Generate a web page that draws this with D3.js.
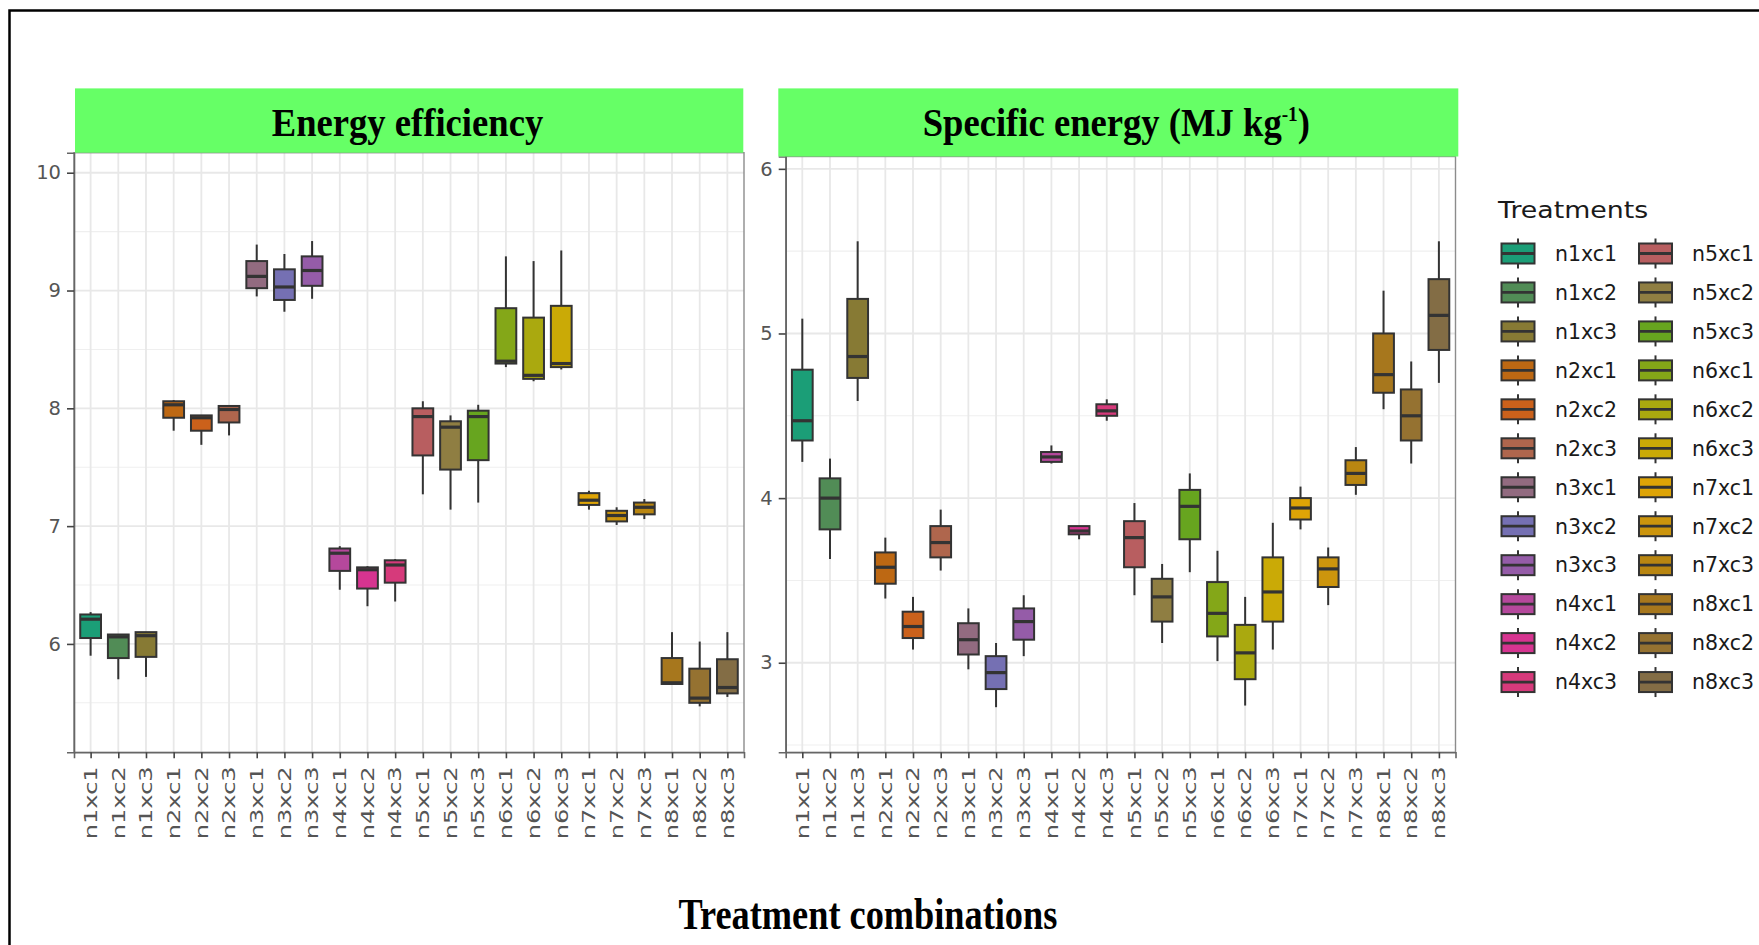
<!DOCTYPE html>
<html>
<head>
<meta charset="utf-8">
<script src="https://cdn.jsdelivr.net/npm/d3@7"></script>
<style>
  html, body { margin: 0; padding: 0; background: #ffffff; }
  svg { display: block; }
</style>
</head>
<body>
<svg id="chart" width="1759" height="945"></svg>
<script>
// ---------------- DATA ----------------
const categories = ["n1xc1","n1xc2","n1xc3","n2xc1","n2xc2","n2xc3","n3xc1","n3xc2","n3xc3",
  "n4xc1","n4xc2","n4xc3","n5xc1","n5xc2","n5xc3","n6xc1","n6xc2","n6xc3",
  "n7xc1","n7xc2","n7xc3","n8xc1","n8xc2","n8xc3"];

// Energy efficiency: lower whisker, Q1, median, Q3, upper whisker
const effLow    = [5.90,5.70,5.72, 7.81,7.69,7.77, 8.95,8.82,8.93, 6.46,6.32,6.36, 7.27,7.14,7.20, 8.35,8.23,8.33, 7.14,7.01,7.06, 5.66,5.47,5.55];
const effQ1     = [6.05,5.88,5.89, 7.92,7.81,7.88, 9.02,8.92,9.04, 6.62,6.47,6.52, 7.60,7.48,7.56, 8.38,8.25,8.35, 7.18,7.04,7.10, 5.66,5.50,5.58];
const effMedian = [6.21,6.06,6.07, 8.03,7.92,7.99, 9.12,9.03,9.17, 6.77,6.63,6.67, 7.93,7.84,7.93, 8.40,8.28,8.38, 7.22,7.09,7.16, 5.67,5.54,5.63];
const effQ3     = [6.25,6.08,6.10, 8.06,7.94,8.02, 9.25,9.18,9.29, 6.81,6.65,6.71, 8.00,7.89,7.98, 8.85,8.77,8.87, 7.28,7.13,7.20, 5.88,5.79,5.87];
const effHigh   = [6.27,6.08,6.10, 8.07,7.94,8.02, 9.39,9.31,9.42, 6.83,6.66,6.72, 8.06,7.94,8.03, 9.29,9.25,9.34, 7.30,7.16,7.23, 6.10,6.02,6.10];

// Specific energy (MJ kg-1): lower whisker, Q1, median, Q3, upper whisker
const seLow    = [4.22,3.63,4.59, 3.39,3.08,3.56, 2.96,2.73,3.04, 4.21,3.75,4.47, 3.41,3.12,3.55, 3.01,2.74,3.08, 3.81,3.35,4.02, 4.54,4.21,4.70];
const seQ1     = [4.35,3.81,4.73, 3.48,3.15,3.64, 3.05,2.84,3.14, 4.22,3.78,4.50, 3.58,3.25,3.75, 3.16,2.90,3.25, 3.87,3.46,4.08, 4.64,4.35,4.90];
const seMedian = [4.47,4.00,4.86, 3.58,3.22,3.73, 3.14,2.94,3.25, 4.25,3.80,4.53, 3.76,3.40,3.95, 3.30,3.06,3.43, 3.94,3.57,4.15, 4.75,4.50,5.11];
const seQ3     = [4.78,4.12,5.21, 3.67,3.31,3.83, 3.24,3.04,3.33, 4.28,3.83,4.57, 3.86,3.51,4.05, 3.49,3.23,3.64, 4.00,3.64,4.23, 5.00,4.66,5.33];
const seHigh   = [5.09,4.24,5.56, 3.76,3.40,3.93, 3.33,3.12,3.41, 4.32,3.83,4.60, 3.97,3.60,4.15, 3.68,3.40,3.85, 4.07,3.70,4.31, 5.26,4.83,5.56];

const effTicks = [6, 7, 8, 9, 10];
const effMinor = [5.5, 6.5, 7.5, 8.5, 9.5];
const seTicks  = [3, 4, 5, 6];
const seMinor  = [2.5, 3.5, 4.5, 5.5];

const palette = ["#1B9E77","#518C56","#877A34","#BD6813","#CB611B","#AF664D","#926B80","#7570B3",
  "#955CA8","#B5489C","#D63490","#D63A7B","#B85E60","#8F7E42","#67A51F","#84A718",
  "#AAA90F","#CAAA06","#DEA406","#CC950D","#B98611","#A7771D","#957231","#836D45"];

// ---------------- DRAW ----------------
const svg = d3.select("#chart");
svg.append("rect").attr("width", 1759).attr("height", 945).attr("fill", "#fff");

// outer frame (only top and left edges visible)
svg.append("path").attr("d", "M9.5,945 V10.5 H1759").attr("fill", "none")
  .attr("stroke", "#000").attr("stroke-width", 2.5);

const color = d3.scaleOrdinal().domain(categories).range(palette);

function fitWidth(textSel, x0, target) {
  const w = textSel.node().getBBox().width;
  const s = target / w;
  textSel.attr("transform", `translate(${x0},0) scale(${s},1) translate(${-x0},0)`);
}

function drawPanel(o) {
  const g = svg.append("g");
  const x = d3.scalePoint().domain(categories).range([o.x0, o.x1]).padding(0.6);
  const y = d3.scaleLinear().domain(o.domain).range([o.y1, o.y0]);
  const bw = x.step() * 0.75;

  // grid
  g.selectAll(".minor").data(o.minor).join("line")
    .attr("x1", o.x0).attr("x2", o.x1).attr("y1", d => y(d)).attr("y2", d => y(d))
    .attr("stroke", "#efefef").attr("stroke-width", 1.1);
  g.selectAll(".major").data(o.ticks).join("line")
    .attr("x1", o.x0).attr("x2", o.x1).attr("y1", d => y(d)).attr("y2", d => y(d))
    .attr("stroke", "#e8e8e8").attr("stroke-width", 1.8);
  g.selectAll(".vgrid").data(categories).join("line")
    .attr("x1", d => x(d)).attr("x2", d => x(d)).attr("y1", o.y0).attr("y2", o.y1)
    .attr("stroke", "#e8e8e8").attr("stroke-width", 1.8);

  // boxes
  const idx = d3.range(categories.length);
  const bx = g.selectAll(".box").data(idx).join("g");
  bx.append("line")
    .attr("x1", i => x(categories[i])).attr("x2", i => x(categories[i]))
    .attr("y1", i => y(o.hi[i])).attr("y2", i => y(o.q3[i]))
    .attr("stroke", "#333").attr("stroke-width", 2);
  bx.append("line")
    .attr("x1", i => x(categories[i])).attr("x2", i => x(categories[i]))
    .attr("y1", i => y(o.q1[i])).attr("y2", i => y(o.lo[i]))
    .attr("stroke", "#333").attr("stroke-width", 2);
  bx.append("rect")
    .attr("x", i => x(categories[i]) - bw / 2).attr("width", bw)
    .attr("y", i => y(o.q3[i])).attr("height", i => y(o.q1[i]) - y(o.q3[i]))
    .attr("fill", i => color(categories[i])).attr("stroke", "#333").attr("stroke-width", 2);
  bx.append("line")
    .attr("x1", i => x(categories[i]) - bw / 2).attr("x2", i => x(categories[i]) + bw / 2)
    .attr("y1", i => y(o.med[i])).attr("y2", i => y(o.med[i]))
    .attr("stroke", "#333").attr("stroke-width", 3.2);

  // panel border
  g.append("rect").attr("x", o.x0).attr("y", o.y0).attr("width", o.x1 - o.x0).attr("height", o.y1 - o.y0)
    .attr("fill", "none").attr("stroke", "#8c8c8c").attr("stroke-width", 1.4);

  // axes
  const ya = g.append("g").attr("transform", `translate(${o.x0},0)`)
    .call(d3.axisLeft(y).tickValues(o.ticks).tickSize(7).tickPadding(6).tickFormat(d3.format("d")));
  ya.select(".domain").attr("stroke", "#666").attr("stroke-width", 1.6);
  ya.selectAll(".tick line").attr("stroke", "#444").attr("stroke-width", 1.6);
  ya.selectAll(".tick text").attr("font-family", "DejaVu Sans").attr("font-size", 19.5)
    .attr("fill", "#555");

  const xa = g.append("g").attr("transform", `translate(0,${o.y1})`)
    .call(d3.axisBottom(x).tickSize(6).tickPadding(4));
  xa.select(".domain").attr("stroke", "#666").attr("stroke-width", 1.6);
  xa.selectAll(".tick line").attr("stroke", "#444").attr("stroke-width", 1.6);
  xa.selectAll(".tick text")
    .attr("font-family", "DejaVu Sans").attr("font-size", 17.5).attr("fill", "#555")
    .attr("text-anchor", "end").attr("transform", "rotate(-90)")
    .attr("x", -14).attr("y", 0).attr("dy", "0.33em")
    .attr("textLength", 73).attr("lengthAdjust", "spacingAndGlyphs");

  // strip
  g.append("rect").attr("x", o.sx0).attr("y", o.sy0).attr("width", o.sx1 - o.sx0).attr("height", o.sy1 - o.sy0)
    .attr("fill", "#66ff66");
  const t = g.append("text").attr("x", o.tx).attr("y", o.ty)
    .attr("font-family", "Liberation Serif, Times New Roman, serif").attr("font-weight", "bold")
    .attr("font-size", 40).attr("fill", "#000");
  o.title(t);
  fitWidth(t, o.tx, o.tw);
}

drawPanel({
  x0: 74, x1: 744, y0: 152.7, y1: 752.3, domain: [5.08, 10.17],
  ticks: effTicks, minor: effMinor,
  lo: effLow, q1: effQ1, med: effMedian, q3: effQ3, hi: effHigh,
  sx0: 75, sx1: 743.3, sy0: 88.4, sy1: 152.7,
  tx: 271.7, ty: 136, tw: 271.6,
  title: t => t.text("Energy efficiency")
});

drawPanel({
  x0: 785.7, x1: 1455.5, y0: 156.5, y1: 752.3, domain: [2.456, 6.075],
  ticks: seTicks, minor: seMinor,
  lo: seLow, q1: seQ1, med: seMedian, q3: seQ3, hi: seHigh,
  sx0: 778.3, sx1: 1458.3, sy0: 88.4, sy1: 156.5,
  tx: 922.7, ty: 136, tw: 387.3,
  title: t => {
    t.append("tspan").text("Specific energy (MJ kg");
    t.append("tspan").attr("font-size", 21).attr("dy", -15).text("-1");
    t.append("tspan").attr("dy", 15).text(")");
  }
});

// x-axis title
const xt = svg.append("text").attr("x", 678.5).attr("y", 929)
  .attr("font-family", "Liberation Serif, Times New Roman, serif").attr("font-weight", "bold")
  .attr("font-size", 44).attr("fill", "#000").text("Treatment combinations");
fitWidth(xt, 678.5, 379);

// legend
const lg = svg.append("g");
const lt = lg.append("text").attr("x", 1498).attr("y", 218.3)
  .attr("font-family", "DejaVu Sans").attr("font-size", 23).attr("fill", "#1a1a1a").text("Treatments");
fitWidth(lt, 1498, 151.5);

const rowY = d3.scalePoint().domain(d3.range(12)).range([253.5, 253.5 + 11 * 38.96]);
const keyCols = [1518, 1655.5];
const textCols = [1555, 1692];
const items = lg.selectAll(".item").data(categories).join("g")
  .attr("transform", (d, i) => `translate(${keyCols[Math.floor(i / 12)]},${rowY(i % 12)})`);
items.append("line").attr("x1", 0).attr("x2", 0).attr("y1", -15).attr("y2", 15)
  .attr("stroke", "#333").attr("stroke-width", 2);
items.append("rect").attr("x", -16.5).attr("y", -10).attr("width", 33).attr("height", 20)
  .attr("fill", d => color(d)).attr("stroke", "#333").attr("stroke-width", 2);
items.append("line").attr("x1", -16.5).attr("x2", 16.5).attr("y1", 0).attr("y2", 0)
  .attr("stroke", "#333").attr("stroke-width", 2.8);
lg.selectAll(".lab").data(categories).join("text")
  .attr("x", (d, i) => textCols[Math.floor(i / 12)])
  .attr("y", (d, i) => rowY(i % 12) + 7.3)
  .attr("font-family", "DejaVu Sans").attr("font-size", 20.5).attr("fill", "#1a1a1a")
  .text(d => d);
</script>
</body>
</html>
